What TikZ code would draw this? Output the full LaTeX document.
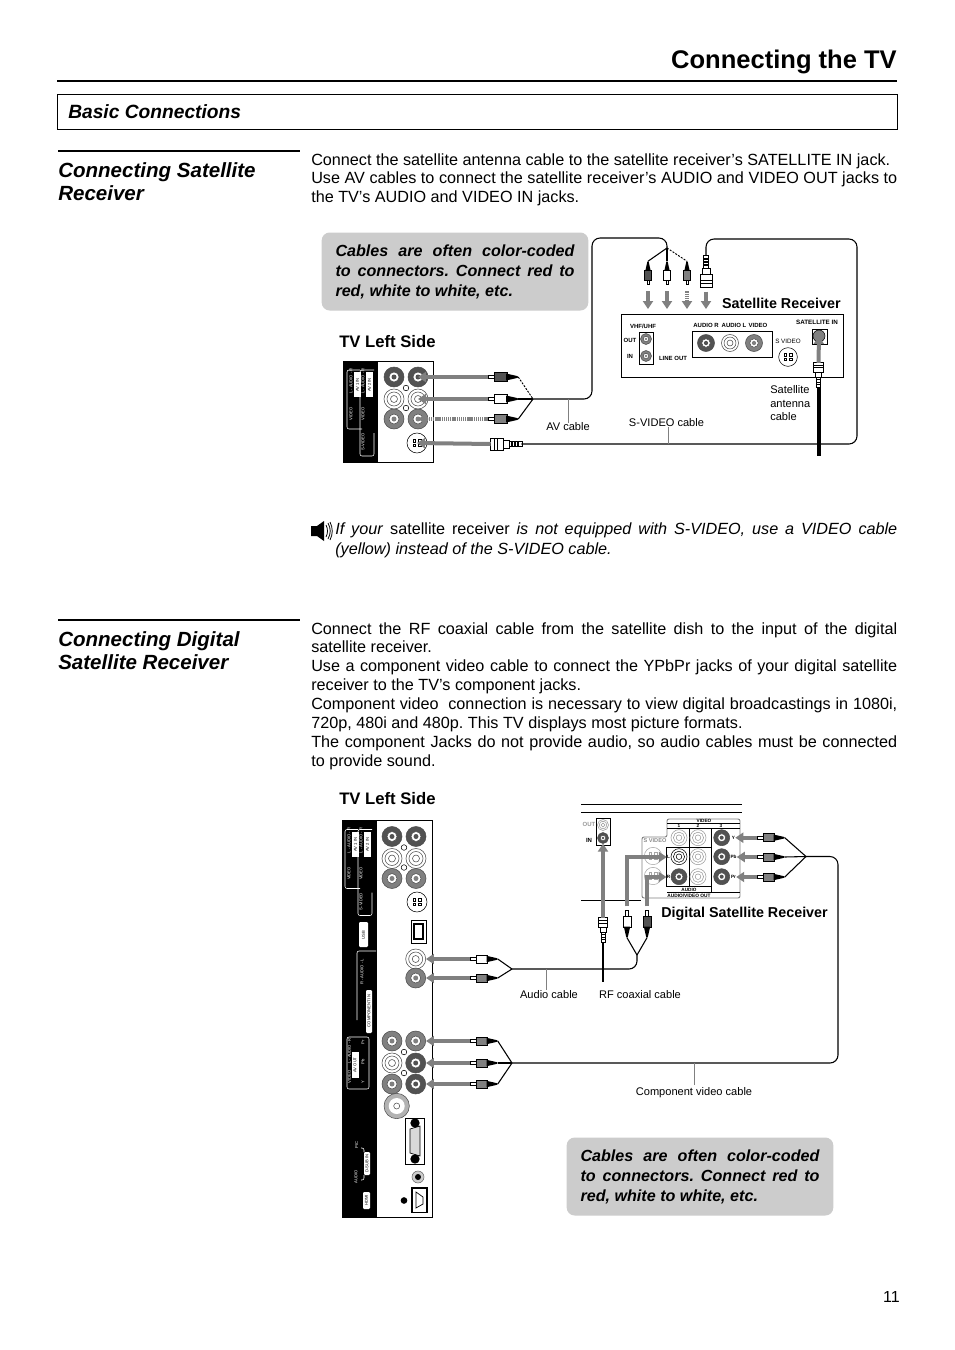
\documentclass[tikz,border=0pt]{standalone}
\usepackage{fontspec}
\setmainfont{Liberation Sans}
\usetikzlibrary{arrows.meta, positioning, calc}
\definecolor{darkjack}{gray}{0.32}
\definecolor{midjack}{gray}{0.5}
\definecolor{callgray}{gray}{0.80}
\definecolor{wiregray}{gray}{0.50}
\tikzset{
  bodytext/.style={anchor=north west, inner sep=0pt, text width=439.5pt, align=justify, font=\fontsize{12.15}{14.15}\selectfont},
  sectionhead/.style={anchor=north west, inner sep=0pt, align=left, font=\fontsize{15.4}{17.25}\selectfont\bfseries\itshape},
  sidelabel/.style={anchor=west, inner sep=0pt, font=\fontsize{12.5}{14}\selectfont\bfseries},
  boxlabel/.style={inner sep=0pt, font=\fontsize{10.75}{12}\selectfont\bfseries},
  cablelabel/.style={inner sep=0pt, align=left, font=\fontsize{8.3}{10.1}\selectfont},
  tinylabel/.style={inner sep=0pt, font=\fontsize{4.5}{5}\selectfont\bfseries},
  panellabel/.style={inner sep=0pt, text=white, rotate=90, font=\fontsize{3.1}{3.5}\selectfont},
  panelbox/.style={inner sep=0pt, text=black, fill=white, rounded corners=0.5pt, rotate=90, font=\fontsize{3.1}{3.5}\selectfont},
  callout/.style={fill=callgray, rounded corners=6pt, inner sep=0pt, minimum width=200pt, minimum height=58.5pt, text width=179.25pt, align=justify, font=\fontsize{12.1}{15}\selectfont\bfseries\itshape},
  rcajack/.style={circle, inner sep=0pt, minimum size=15pt, draw=black!70, fill=#1, path picture={
      \draw[fill=white] (path picture bounding box.center) circle (5);
      \fill[#1] (path picture bounding box.center) circle (2.5);}},
  whitejack/.style={circle, inner sep=0pt, minimum size=15pt, draw=black!70, fill=white, path picture={
      \draw (path picture bounding box.center) circle (7);
      \draw (path picture bounding box.center) circle (3.5);}},
  holedot/.style={circle, inner sep=0pt, minimum size=4.2pt, draw=black, fill=white},
  plugnode/.style={inner sep=0pt, minimum width=22.5pt, minimum height=6pt},
  wirearrow/.style={-{Triangle[length=6pt,width=7.5pt]}, line width=3pt, draw=wiregray},
  dotarrow/.style={wirearrow, dash pattern=on 1pt off 0.6pt},
  cable/.style={line width=0.8pt, draw=black, rounded corners=6pt},
  dashcable/.style={line width=0.7pt, draw=black, dash pattern=on 1.5pt off 1pt},
  heavycable/.style={line width=3pt, draw=black},
  pointer/.style={line width=0.7pt, draw=wiregray},
  frameline/.style={draw=white, line width=0.4pt, rounded corners=1.5pt}
}
% phono plug, tip on the left before turning
\newcommand{\rcaplug}[6][1]{
  \begin{scope}[shift={(#3,#4)},rotate=#5,scale=#1,transform shape]
    \draw[fill=white,line width=0.4pt] (-15,-1.5) rectangle (-9,1.5);
    \draw[fill=#6,line width=0.4pt] (-9,-4.5) rectangle (4,4.5);
    \fill (3,-3.5) -- (14,-1) -- (15,-0.5) -- (15,0.5) -- (14,1) -- (3,3.5) -- cycle;
    \node[plugnode] (#2) at (0,0) {};
  \end{scope}
}
% threaded plug for s-video and coaxial leads
\newcommand{\bigplug}[5][1]{
  \begin{scope}[shift={(#3,#4)},rotate=#5,scale=#1,transform shape]
    \draw[fill=white,line width=0.5pt] (-16,-6) rectangle (-3,6);
    \draw[line width=0.5pt] (-12,-6) -- (-12,6) (-9,-6) -- (-9,6);
    \draw[fill=white,line width=0.5pt] (-3,-4) rectangle (3,4);
    \draw[fill=white,line width=0.5pt] (3,-2.5) rectangle (16,2.5);
    \draw[line width=0.8pt] (6,-2.5) -- (6,2.5) (9,-2.5) -- (9,2.5) (12,-2.5) -- (12,2.5);
    \node[plugnode] (#2) at (0,0) {};
  \end{scope}
}
% four pin socket
\newcommand{\svideojack}[5]{
  \node[circle, inner sep=0pt, minimum size=#5pt, draw=#4, fill=white] (#1) at (#2,#3) {};
  \begin{scope}[shift={(#2,#3)}, #4]
    \draw[line width=0.5pt] (-4,-1) rectangle (-1.5,-4) (1.5,-1) rectangle (4,-4) (-4,1) rectangle (-1.5,3.5) (1.5,1) rectangle (4,3.5);
  \end{scope}
}
% the audio and video sockets with their print, used on both back panels
\newcommand{\avgroup}[3]{
  \begin{scope}[shift={(#2,#3)}]
    \draw[frameline] (17,9) -- (4,9) -- (4,68) -- (19,68);
    \draw[frameline] (31,9) -- (17,9) -- (17,95) -- (31,95) -- (31,72);
    \fill[white] (11,11) rectangle (18,36);
    \fill[white] (23,11) rectangle (30,36);
    \node[panellabel] (#1labelA) at (8,20) {L - AUDIO - R};
    \node[panellabel, text=black] (#1labelB) at (14.5,24) {AV 1 IN};
    \node[panellabel] (#1labelC) at (8,53) {VIDEO};
    \node[panellabel] (#1labelD) at (20,20) {L - AUDIO - R};
    \node[panellabel, text=black] (#1labelE) at (26.5,24) {AV 2 IN};
    \node[panellabel] (#1labelF) at (20,53) {VIDEO};
    \node[panellabel] (#1labelG) at (20,81) {S-VIDEO};
    \node[rcajack=darkjack] (#1a) at (51,16) {};
    \node[rcajack=darkjack] (#1b) at (75,16) {};
    \node[whitejack] (#1c) at (51,38) {};
    \node[whitejack] (#1d) at (75,38) {};
    \node[rcajack=midjack] (#1e) at (51,58) {};
    \node[rcajack=midjack] (#1f) at (75,58) {};
    \node[holedot] (#1g) at (63,27) {};
    \node[holedot] (#1h) at (63,47) {};
  \end{scope}
}

\begin{document}
\frenchspacing
\begin{tikzpicture}[x=0.75pt, y=-0.75pt]
\useasboundingbox (0,0) rectangle (954,1350);
\fill[white] (0,0) rectangle (954,1350);

% page head
\node[anchor=east, inner sep=0pt, font=\fontsize{19.15}{24}\selectfont\bfseries] (title) at (897,61.5) {Connecting the TV};
\draw[line width=2.2pt] (57,81) -- (897,81);
\draw[line width=0.6pt] (57,94) rectangle (897,129);
\node[anchor=west, inner sep=0pt, font=\fontsize{14.4}{17}\selectfont\bfseries\itshape] (basic) at (68,112) {Basic Connections};

% first section
\draw[line width=1.5pt] (58,151) -- (300,151);
\node[sectionhead] (headA) at (58,162) {Connecting Satellite\\Receiver};
\node[bodytext] (paraA) at (311,153) {Connect the satellite antenna cable to the satellite receiver’s SATELLITE IN jack.\\Use AV cables to connect the satellite receiver’s AUDIO and VIDEO OUT jacks to\linebreak the TV’s AUDIO and VIDEO IN jacks.};
\node[callout] (noteA) at (455,271.5) {Cables are often color-coded\linebreak to connectors. Connect red to\linebreak red, white to white, etc.};
\node[sidelabel] (tvA) at (339,342) {TV Left Side};

% back panel, upper
\draw[line width=0.5pt, fill=white] (343,361) rectangle (433,462);
\fill[black] (343,361) rectangle (378,462);
\avgroup{up}{343}{361}
\svideojack{upS}{417}{443}{black}{15}

% receiver, upper
\draw[line width=0.7pt] (621,314) rectangle (843,377);
\draw[line width=0.6pt] (639,332) rectangle (653,364);
\draw[line width=0.6pt] (692,331) rectangle (772,357);
\draw[line width=0.6pt] (812,329) rectangle (827,344);
\node[tinylabel] (vhf) at (643,326) {VHF/UHF};
\node[tinylabel] (outA) at (630,340) {OUT};
\node[tinylabel] (inA) at (630,356) {IN};
\node[tinylabel] (lineout) at (673,358) {LINE OUT};
\node[tinylabel] (audR) at (706,325) {AUDIO R};
\node[tinylabel] (audL) at (734,325) {AUDIO L};
\node[tinylabel] (vidA) at (758,325) {VIDEO};
\node[tinylabel, font=\fontsize{4.7}{5}\selectfont] (svidA) at (788,341) {S VIDEO};
\node[tinylabel, font=\fontsize{4.7}{5}\selectfont\bfseries] (satin) at (817,322) {SATELLITE IN};
\node[rcajack=midjack, scale=0.55] (vhfO) at (646,339) {};
\node[rcajack=midjack, scale=0.55] (vhfI) at (646,356) {};
\node[rcajack=darkjack, scale=0.85] (lineR) at (706,343) {};
\node[whitejack, scale=0.85] (lineL) at (730,343) {};
\node[rcajack=midjack, scale=0.85] (lineV) at (754,343) {};
\svideojack{lineS}{788}{357}{black}{14}
\node[circle, inner sep=0pt, minimum size=9pt, draw=black, fill=midjack] (satJ) at (819,336) {};
\node[boxlabel, anchor=east] (recvA) at (841,303) {Satellite Receiver};

% leads, upper
\rcaplug{plugAa}{503}{377}{0}{darkjack}
\rcaplug{plugAb}{503}{399}{0}{white}
\rcaplug{plugAc}{503}{419}{0}{midjack}
\bigplug{plugAs}{506}{444}{0}
\rcaplug[0.77]{plugBa}{648}{273}{90}{darkjack}
\rcaplug[0.77]{plugBb}{667}{273}{90}{white}
\rcaplug[0.77]{plugBc}{687}{273}{90}{midjack}
\bigplug{plugBs}{706}{271}{90}
\bigplug[0.8]{plugBn}{818.5}{375}{-90}

\coordinate (junA) at (533,399);
\coordinate (junB) at (667,248);
\coordinate (bendA) at (592,238);
\coordinate (bendB) at (667,238);
\coordinate (bendC) at (857,239);
\coordinate (antEnd) at (818.5,456);
\coordinate (ptrBa) at (648,309);
\coordinate (ptrBb) at (667,309);
\coordinate (ptrBc) at (687,309);
\coordinate (ptrBs) at (706,309);

\draw[wirearrow] (plugAa.west) -- (upb.center);
\draw[wirearrow] (plugAb.west) -- (upd.center);
\draw[dotarrow] (plugAc.west) -- (upf.center);
\draw[wirearrow] (plugAs.west) -- (upS.center);
\draw[wirearrow, shorten <=5pt] (plugBa.west) -- (ptrBa);
\draw[wirearrow, shorten <=5pt] (plugBb.west) -- (ptrBb);
\draw[dotarrow, shorten <=5pt] (plugBc.west) -- (ptrBc);
\draw[wirearrow, shorten <=4pt] (plugBs.west) -- (ptrBs);
\draw[wirearrow] (plugBn.west) -- (satJ.center);

\draw[dashcable] (plugAa.east) -- (junA);
\draw[cable] (plugAb.east) -- (junA);
\draw[cable] (plugAc.east) -- (junA);
\draw[cable] (junA) -| (bendA) -- (bendB) -- (junB);
\draw[cable] (junB) -- (plugBa.east);
\draw[cable] (junB) -- (plugBb.east);
\draw[dashcable] (junB) -- (plugBc.east);
\draw[cable] (plugAs.east) -| (bendC) -| (plugBs.east);
\draw[heavycable] (plugBn.east) -- (antEnd);

\node[cablelabel] (avlabel) at (568,427) {AV cable};
\node[cablelabel] (svlabel) at (666.5,423) {S-VIDEO cable};
\node[cablelabel, anchor=north west] (antlabel) at (770,385.5) {Satellite\\antenna\\cable};
\draw[pointer] (avlabel.north) -- (avlabel.north |- junA);
\draw[pointer] ($(svlabel.south)+(2,0)$) -- ($(svlabel.south |- plugAs.east)+(2,0)$);

% note with speaker
\fill (311,526) -- (317,526) -- (324,521) -- (324,541) -- (317,536) -- (311,536) -- cycle;
\draw[line width=0.6pt] (326,525) .. controls (328,529) and (328,533) .. (326,537);
\draw[line width=0.6pt] (328,523) .. controls (331,529) and (331,533) .. (328,539);
\draw[line width=0.6pt] (330,522) .. controls (333,528) and (333,534) .. (330,540);
\node[bodytext, text width=421.5pt, font=\fontsize{12.15}{15}\selectfont] (hint) at (335,522.5) {\textit{If your} satellite receiver \textit{is not equipped with S-VIDEO, use a VIDEO cable}\linebreak \textit{(yellow) instead of the S-VIDEO cable.}};

% second section
\draw[line width=1.5pt] (58,620) -- (300,620);
\node[sectionhead] (headB) at (58,631) {Connecting Digital\\Satellite Receiver};
\node[bodytext] (paraB) at (311,622) {Connect the RF coaxial cable from the satellite dish to the input of the digital\linebreak satellite receiver.\\Use a component video cable to connect the YPbPr jacks of your digital satellite\linebreak receiver to the TV’s component jacks.\\Component video\ \ connection is necessary to view digital broadcastings in 1080i,\linebreak 720p, 480i and 480p. This TV displays most picture formats.\\The component Jacks do not provide audio, so audio cables must be connected\linebreak to provide sound.};
\node[sidelabel] (tvB) at (339,799) {TV Left Side};

% back panel, lower
\draw[line width=0.5pt, fill=white] (342,820.5) rectangle (432,1217);
\fill[black] (342,820.5) rectangle (377,1217);
\avgroup{lo}{341}{820.5}
\svideojack{loS}{417}{902}{black}{15}
\fill[white, rounded corners=0.8pt] (359,922) rectangle (368,947);
\node[panelbox] (usbtxt) at (363.5,935) {USB};
\draw[frameline] (376,951) -- (357,951) -- (357,1020);
\node[panellabel] (audtxt) at (362,972) {R - AUDIO - L};
\fill[white, rounded corners=0.8pt] (366,990) rectangle (372,1033);
\node[panelbox] (comptxt) at (369,1011) {COMPONENT IN};
\draw[line width=0.7pt] (411,920) rectangle (426,943);
\draw[line width=1pt] (414,924) rectangle (423,939);
\node[whitejack] (loP) at (415.7,959) {};
\node[rcajack=midjack] (loQ) at (415.7,978) {};
\rcaplug[0.9]{plugCa}{484}{959}{0}{white}
\rcaplug[0.9]{plugCb}{484}{978}{0}{midjack}
\coordinate (junC) at (512,969);
\coordinate (bendD) at (637,969);
\coordinate (junD) at (637,955);

\draw[frameline] (369,1037) -- (347,1037) -- (347,1089) -- (369,1089) -- cycle;
\node[panellabel] (vidtxtC) at (349.5,1077) {VIDEO};
\node[panellabel] (avtxtC) at (349.5,1051) {L - AUDIO - R};
\fill[white] (352,1052) rectangle (358.5,1078);
\node[panelbox] (avout) at (355,1065) {AV OUT};
\node[panellabel] (prtxt) at (363,1042) {Pr};
\node[panellabel] (pbtxt) at (363,1062) {Pb};
\node[panellabel] (ytxt) at (363,1082) {Y};
\node[rcajack=midjack] (loU) at (392,1041) {};
\node[rcajack=midjack] (loV) at (415.7,1041) {};
\node[whitejack] (loW) at (392,1063) {};
\node[rcajack=darkjack] (loX) at (415.7,1063) {};
\node[rcajack=midjack] (loY) at (392,1084) {};
\node[rcajack=darkjack] (loZ) at (415.7,1084) {};
\node[holedot] (loH) at (404,1052) {};
\node[holedot] (loI) at (404,1073) {};
\node[circle, inner sep=0pt, minimum size=19pt, draw=black!70, fill=black!30, path picture={\fill[white] (path picture bounding box.center) circle (8); \draw (path picture bounding box.center) circle (3);}] (loAnt) at (396.7,1106) {};

\draw[line width=0.7pt] (405.7,1118) rectangle (424,1164);
\draw[line width=0.5pt, fill=black!15] (410,1129) -- (420,1126) -- (420,1156) -- (410,1153) -- cycle;
\node[circle, inner sep=0pt, minimum size=7pt, fill=black] (vgaA) at (415,1123) {};
\node[circle, inner sep=0pt, minimum size=7pt, fill=black] (vgaB) at (415,1159) {};
\node[circle, inner sep=0pt, minimum size=9pt, draw=black!60, fill=black!20, path picture={\fill[black] (path picture bounding box.center) circle (3);}] (phones) at (418,1177) {};
\draw[line width=0.8pt] (412,1188) rectangle (427,1212.5);
\draw[line width=0.5pt] (416,1192) -- (423,1197) -- (423,1204) -- (416,1208) -- cycle;
\node[circle, inner sep=0pt, minimum size=5pt, fill=black] (hdmiDot) at (404,1200.5) {};
\node[panellabel] (pictxt) at (356.7,1145) {PIC};
\node[panellabel] (audtxtB) at (356,1177) {AUDIO};
\fill[white, rounded corners=0.8pt] (364,1152) rectangle (370,1175);
\node[panelbox] (dsub) at (367,1163.5) {D-SUB IN};
\draw[frameline] (361,1148) -- (364,1148) -- (364,1152);
\draw[frameline] (361,1180) -- (364,1180) -- (364,1175);
\fill[white, rounded corners=0.8pt] (363,1192) rectangle (370,1209);
\node[panelbox] (hdmitxt) at (366.5,1200.5) {HDMI};

% receiver, lower
\draw[line width=0.6pt] (581,804.3) -- (742,804.3);
\draw[line width=0.6pt] (581,812.3) -- (742,812.3);
\draw[line width=0.6pt] (581,900) -- (641,900);
\node[tinylabel, text=black!40] (outB) at (589,824) {OUT};
\node[tinylabel] (inB) at (589,840) {IN};
\draw[line width=0.7pt] (596.7,818.3) rectangle (610,845);
\node[whitejack, scale=0.55, draw=black!40] (rfO) at (603,825) {};
\node[rcajack=darkjack, scale=0.55] (rfI) at (603,838) {};
\draw[draw=wiregray, line width=0.7pt, rounded corners=1.5pt] (642,898) -- (642,837) -- (667,837) -- (667,819) -- (740,819) -- (740,898) -- cycle;
\draw[line width=0.5pt] (667,823) -- (740,823) (667,828) -- (740,828) (667,892) -- (740,892);
\draw[line width=0.5pt] (689,828) -- (689,847.7) (711.7,828) -- (711.7,892);
\draw[line width=0.5pt] (666,847.7) rectangle (711.7,886.7);
\draw[line width=0.5pt] (689,847.7) -- (689,886.7);
\node[tinylabel, font=\fontsize{3.5}{4}\selectfont\bfseries] (vidB) at (704,821) {VIDEO};
\node[tinylabel, font=\fontsize{3.5}{4}\selectfont\bfseries] (colA) at (679,826) {1};
\node[tinylabel, font=\fontsize{3.5}{4}\selectfont\bfseries] (colB) at (698,826) {2};
\node[tinylabel, font=\fontsize{3.5}{4}\selectfont\bfseries] (colC) at (721,826) {3};
\node[tinylabel, text=black!45, font=\fontsize{4.2}{5}\selectfont\bfseries] (svidB) at (655,841) {S VIDEO};
\node[tinylabel, font=\fontsize{3.5}{4}\selectfont\bfseries] (audB) at (689,889.5) {AUDIO};
\node[tinylabel, font=\fontsize{3.6}{4}\selectfont\bfseries] (avoutB) at (689,895.5) {AUDIO/VIDEO OUT};
\node[tinylabel, font=\fontsize{3.5}{4}\selectfont\bfseries] (lblL) at (668.5,857) {L};
\node[tinylabel, font=\fontsize{3.5}{4}\selectfont\bfseries] (lblR) at (668.5,877) {R};
\node[tinylabel, font=\fontsize{3.5}{4}\selectfont\bfseries] (lblY) at (733.5,837.7) {Y};
\node[tinylabel, font=\fontsize{3.5}{4}\selectfont\bfseries] (lblPb) at (733.5,857) {Pb};
\node[tinylabel, font=\fontsize{3.5}{4}\selectfont\bfseries] (lblPr) at (733.5,877) {Pr};
\svideojack{digSa}{653}{856}{black!35}{13}
\svideojack{digSb}{653}{876}{black!35}{13}
\node[whitejack, scale=0.8, draw=black!40] (digA) at (679,837.7) {};
\node[whitejack, scale=0.8, draw=black!40] (digB) at (698,837.7) {};
\node[rcajack=darkjack, scale=0.8] (digC) at (721.7,837.7) {};
\node[whitejack, scale=0.8, draw=black] (digD) at (679,856.7) {};
\node[whitejack, scale=0.8, draw=black!40] (digE) at (698,856.7) {};
\node[rcajack=darkjack, scale=0.8] (digF) at (721.7,856.7) {};
\node[rcajack=darkjack, scale=0.8] (digG) at (679,876.7) {};
\node[whitejack, scale=0.8, draw=black!40] (digH) at (698,876.7) {};
\node[rcajack=darkjack, scale=0.8] (digI) at (721.7,876.7) {};
\node[boxlabel, anchor=west] (recvB) at (661,914) {Digital Satellite Receiver};

% leads, lower
\rcaplug[0.9]{plugDa}{771}{837.7}{0}{midjack}
\rcaplug[0.9]{plugDb}{771}{857}{0}{midjack}
\rcaplug[0.9]{plugDc}{771}{877}{0}{midjack}
\rcaplug[0.9]{plugEa}{484}{1041}{0}{midjack}
\rcaplug[0.9]{plugEb}{484}{1063}{0}{midjack}
\rcaplug[0.9]{plugEc}{484}{1084}{0}{midjack}
\rcaplug[0.9]{plugFa}{627}{924}{-90}{white}
\rcaplug[0.9]{plugFb}{647}{924}{-90}{darkjack}
\bigplug[0.78]{plugFn}{603}{930}{-90}

\coordinate (junE) at (806,856.5);
\coordinate (junF) at (512,1063);
\coordinate (bendE) at (838,856.5);
\coordinate (rfEnd) at (603,982);

\draw[wirearrow] (plugCa.west) -- (loP.east);
\draw[wirearrow] (plugCb.west) -- (loQ.east);
\draw[wirearrow] (plugEa.west) -- (loV.east);
\draw[wirearrow] (plugEb.west) -- (loX.east);
\draw[wirearrow] (plugEc.west) -- (loZ.east);
\draw[wirearrow] (plugDa.west) -- (lblY.east);
\draw[wirearrow] (plugDb.west) -- (lblPb.east);
\draw[wirearrow] (plugDc.west) -- (lblPr.east);
\draw[wirearrow] (plugFn.west) -- (rfI.south);
\draw[wirearrow, shorten <=3pt] (plugFa.west) |- (lblL.west);
\draw[wirearrow, shorten <=3pt] (plugFb.west) |- (lblR.west);

\draw[cable] (plugCa.east) -- (junC);
\draw[cable] (plugCb.east) -- (junC);
\draw[cable] (junC) -- (bendD) -- (junD);
\draw[cable] (junD) -- (plugFa.east);
\draw[cable] (junD) -- (plugFb.east);
\draw[cable] (plugDa.east) -- (junE);
\draw[cable] (plugDb.east) -- (junE);
\draw[cable] (plugDc.east) -- (junE);
\draw[cable] (junE) -- (bendE) |- (junF);
\draw[cable] (plugEa.east) -- (junF);
\draw[cable] (plugEb.east) -- (junF);
\draw[cable] (plugEc.east) -- (junF);
\draw[line width=1.2pt] (plugFn.east) -- (rfEnd);

\node[cablelabel] (audlabel) at (549,995) {Audio cable};
\node[cablelabel] (rflabel) at (640,995) {RF coaxial cable};
\node[cablelabel] (complabel) at (694,1092.5) {Component video cable};
\draw[pointer] ($(audlabel.north)+(-3,-1)$) -- ($(audlabel.north |- junC)+(-3,0)$);
\draw[pointer] ($(complabel.north)+(0,-2)$) -- (complabel.north |- junF);

\node[callout] (noteB) at (700,1176.5) {Cables are often color-coded\linebreak to connectors. Connect red to\linebreak red, white to white, etc.};
\node[anchor=east, inner sep=0pt, font=\fontsize{12}{14}\selectfont] (pageno) at (900,1297) {11};
\end{tikzpicture}
\end{document}
